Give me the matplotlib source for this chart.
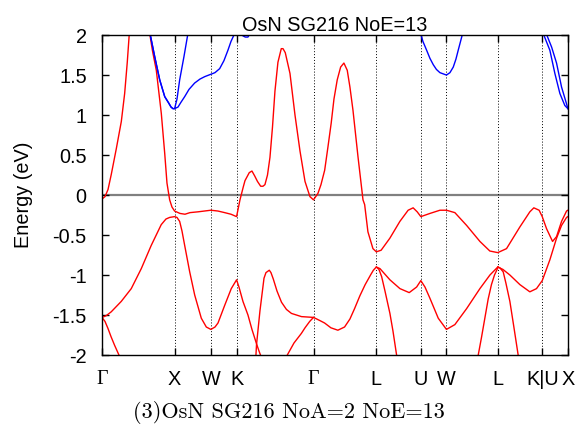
import numpy as np
import matplotlib
matplotlib.use("Agg")
import matplotlib.pyplot as plt

# high-symmetry points along the fcc path (distance in 2pi/a)
kpt_labels = ["Γ", "X", "W", "K", "Γ", "L", "U", "W", "L", "K|U", "X"]
kpt_pos = [0.0, 1.0, 1.5, 1.8536, 2.9142, 3.7802, 4.3926, 4.7462, 5.4533, 6.0657, 6.4193]

# occupied bands (red)
r1_k = [0.000, 0.041, 0.083, 0.128, 0.197, 0.266, 0.312, 0.348, 0.376, 0.399,
        0.510, 0.657, 0.696, 0.748, 0.817, 0.864, 0.895, 0.932, 0.964, 1.000,
        1.074, 1.143, 1.212, 1.322, 1.500, 1.597, 1.690, 1.777, 1.854, 1.901,
        1.946, 1.970, 2.029, 2.066, 2.103, 2.142, 2.186, 2.218, 2.245, 2.280,
        2.314, 2.349, 2.383, 2.424, 2.470, 2.494, 2.525, 2.590, 2.659, 2.728,
        2.797, 2.865,
        2.914, 2.975, 3.017, 3.068, 3.113, 3.158, 3.196, 3.241, 3.288, 3.333,
        3.379, 3.416, 3.458, 3.527, 3.596, 3.619, 3.664, 3.733, 3.780, 3.846,
        3.966, 4.104, 4.218, 4.287, 4.343, 4.393, 4.519, 4.656, 4.746, 4.862,
        5.024, 5.207, 5.344, 5.453, 5.574, 5.757, 5.895, 5.950, 6.023, 6.066,
        6.125, 6.208, 6.263, 6.332, 6.401, 6.419]
r1_e = [-0.05, -0.02, 0.07, 0.26, 0.58, 0.92, 1.27, 1.66, 2.02, 2.35,
        2.90, 2.02, 1.80, 1.56, 1.02, 0.52, 0.15, -0.06, -0.15, -0.20,
        -0.23, -0.24, -0.22, -0.21, -0.19, -0.20, -0.22, -0.24, -0.27, -0.06,
        0.10, 0.18, 0.28, 0.30, 0.24, 0.17, 0.11, 0.11, 0.13, 0.25,
        0.47, 0.85, 1.30, 1.66, 1.83, 1.83, 1.78, 1.52, 1.00, 0.55,
        0.17, -0.02,
        -0.06, 0.02, 0.13, 0.31, 0.60, 0.90, 1.20, 1.44, 1.60, 1.65,
        1.56, 1.35, 1.06, 0.48, -0.06, -0.12, -0.46, -0.67, -0.71, -0.69,
        -0.54, -0.33, -0.19, -0.16, -0.21, -0.27, -0.23, -0.19, -0.19, -0.22,
        -0.38, -0.58, -0.70, -0.72, -0.67, -0.40, -0.21, -0.16, -0.19, -0.27,
        -0.42, -0.58, -0.52, -0.33, -0.20, -0.19]

r2_k = [0.000, 0.055, 0.127, 0.265, 0.403, 0.541, 0.678, 0.816, 0.881, 0.932, 0.999,
        1.033, 1.070, 1.102, 1.139, 1.208, 1.277, 1.368, 1.437, 1.500, 1.557, 1.598,
        1.690, 1.781, 1.854, 1.887, 1.942, 2.011, 2.066, 2.129, 2.163, 2.204]
r2_e = [-1.53, -1.51, -1.46, -1.33, -1.17, -0.92, -0.63, -0.37, -0.30, -0.28, -0.27,
        -0.28, -0.33, -0.45, -0.63, -0.96, -1.25, -1.54, -1.65, -1.68, -1.65, -1.60,
        -1.38, -1.17, -1.06, -1.15, -1.33, -1.50, -1.68, -1.86, -1.95, -2.05]

r3_k = [2.115, 2.129, 2.176, 2.232, 2.259, 2.305, 2.328, 2.360, 2.411, 2.473, 2.541,
        2.610, 2.748, 2.914, 3.003, 3.067, 3.154, 3.250, 3.342, 3.416, 3.480, 3.553,
        3.626, 3.700, 3.739, 3.780, 3.830, 3.967, 4.105, 4.233, 4.335, 4.393, 4.450,
        4.518, 4.633, 4.746, 4.862, 5.024, 5.207, 5.345, 5.453, 5.524, 5.620, 5.758,
        5.895, 5.987, 6.066, 6.171, 6.263, 6.332, 6.401, 6.419]
r3_e = [-2.10, -1.87, -1.45, -1.04, -0.97, -0.94, -0.97, -1.05, -1.20, -1.34, -1.43,
        -1.48, -1.52, -1.53, -1.57, -1.60, -1.66, -1.69, -1.65, -1.55, -1.42, -1.26,
        -1.12, -1.00, -0.94, -0.90, -0.92, -1.06, -1.17, -1.22, -1.15, -1.07, -1.15,
        -1.29, -1.54, -1.68, -1.62, -1.42, -1.17, -1.00, -0.90, -0.93, -1.00, -1.12,
        -1.21, -1.17, -1.07, -0.81, -0.54, -0.38, -0.28, -0.27]

r4_k = [0.000, 0.041, 0.083, 0.124, 0.174, 0.243, 0.275]
r4_e = [-1.53, -1.58, -1.67, -1.77, -1.88, -2.02, -2.10]

r5_k = [2.521, 2.553, 2.645, 2.747, 2.797, 2.862, 2.914]
r5_e = [-2.06, -2.00, -1.85, -1.73, -1.66, -1.58, -1.53]

r6_k = [3.780, 3.816, 3.853, 3.899, 3.967, 4.009, 4.059, 4.077]
r6_e = [-0.90, -0.93, -1.02, -1.20, -1.48, -1.70, -2.00, -2.10]

r7_k = [5.160, 5.184, 5.229, 5.275, 5.321, 5.366, 5.408, 5.459]
r7_e = [-2.10, -2.00, -1.78, -1.54, -1.30, -1.12, -1.00, -0.90]

r8_k = [5.453, 5.482, 5.528, 5.565, 5.620, 5.675, 5.734, 5.758]
r8_e = [-0.90, -0.91, -0.96, -1.10, -1.33, -1.65, -2.00, -2.10]

# unoccupied bands (blue)
b1_k = [0.661, 0.726, 0.795, 0.864, 0.919, 0.951, 0.978, 1.000, 1.033, 1.070,
        1.129, 1.184, 1.212]
b1_e = [2.02, 1.73, 1.44, 1.23, 1.15, 1.10, 1.08, 1.08, 1.20, 1.44,
        1.73, 2.02, 2.20]

b2_k = [0.661, 0.726, 0.795, 0.864, 0.919, 0.951, 0.978, 1.000, 1.047, 1.088,
        1.139, 1.198, 1.276, 1.350, 1.415, 1.500, 1.556, 1.621, 1.680, 1.735,
        1.777, 1.828, 1.846]
b2_e = [2.02, 1.73, 1.44, 1.23, 1.15, 1.10, 1.08, 1.08, 1.10, 1.16,
        1.23, 1.32, 1.40, 1.45, 1.48, 1.51, 1.53, 1.58, 1.68, 1.81,
        1.92, 2.02, 2.07]

b3_k = [1.915, 1.942, 1.974, 2.011, 2.039]
b3_e = [2.02, 1.99, 1.975, 1.975, 2.02]

b4_k = [4.390, 4.422, 4.473, 4.518, 4.564, 4.608, 4.656, 4.746, 4.794, 4.840,
        4.877, 4.908, 4.969, 4.987]
b4_e = [2.02, 1.92, 1.81, 1.71, 1.63, 1.57, 1.53, 1.50, 1.53, 1.60,
        1.70, 1.81, 2.02, 2.10]

b5_k = [6.079, 6.171, 6.240, 6.309, 6.377, 6.419]
b5_e = [2.02, 1.81, 1.52, 1.27, 1.12, 1.08]

b6_k = [6.120, 6.195, 6.263, 6.332, 6.391, 6.419]
b6_e = [2.02, 1.85, 1.65, 1.35, 1.17, 1.08]

red_bands = [(r1_k, r1_e), (r2_k, r2_e), (r3_k, r3_e), (r4_k, r4_e),
             (r5_k, r5_e), (r6_k, r6_e), (r7_k, r7_e), (r8_k, r8_e)]
blue_bands = [(b1_k, b1_e), (b2_k, b2_e), (b3_k, b3_e), (b4_k, b4_e),
              (b5_k, b5_e), (b6_k, b6_e)]

plt.rcParams["font.family"] = ["Liberation Sans", "DejaVu Sans"]
fs = 14.3

fig = plt.figure(figsize=(5.78, 4.41), dpi=100)
ax = fig.add_axes([0.1765, 0.195, 0.806, 0.7255])

ax.axhline(0, color="#808080", lw=1.6, zorder=1)
for x in kpt_pos[1:-1]:
    ax.axvline(x, color="black", lw=0.7, ls=(0, (1, 2)), zorder=1)

for k, e in red_bands:
    ax.plot(k, e, color="#ff0000", lw=1.0, zorder=2)
for k, e in blue_bands:
    ax.plot(k, e, color="#0000ff", lw=1.0, zorder=2)

ax.set_xlim(kpt_pos[0], kpt_pos[-1])
ax.set_ylim(-2, 2)
ax.set_yticks(np.arange(-2, 2.01, 0.5))
ax.set_yticklabels(["-2", "-1.5", "-1", "-0.5", "0", "0.5", "1", "1.5", "2"])
ax.set_xticks(kpt_pos)
ax.set_xticklabels(kpt_labels)
for lab, txt in zip(ax.get_xticklabels(), kpt_labels):
    if txt == "Γ":
        lab.set_fontfamily("Liberation Serif")
ax.tick_params(axis="both", direction="in", top=True, right=True,
               labelsize=fs, length=5, width=1.0)
ax.tick_params(axis="x", pad=11)
ax.tick_params(axis="y", pad=11)
for sp in ax.spines.values():
    sp.set_linewidth(1.0)

ax.set_ylabel("Energy (eV)", fontsize=fs, labelpad=14)
ax.set_title("OsN SG216 NoE=13", fontsize=fs, pad=3)
fig.text(0.5, 1 - 412 / 441, "(3)OsN SG216 NoA=2 NoE=13",
         ha="center", va="center", family="cmr10", fontsize=16)

fig.savefig("out.png", dpi=100)
